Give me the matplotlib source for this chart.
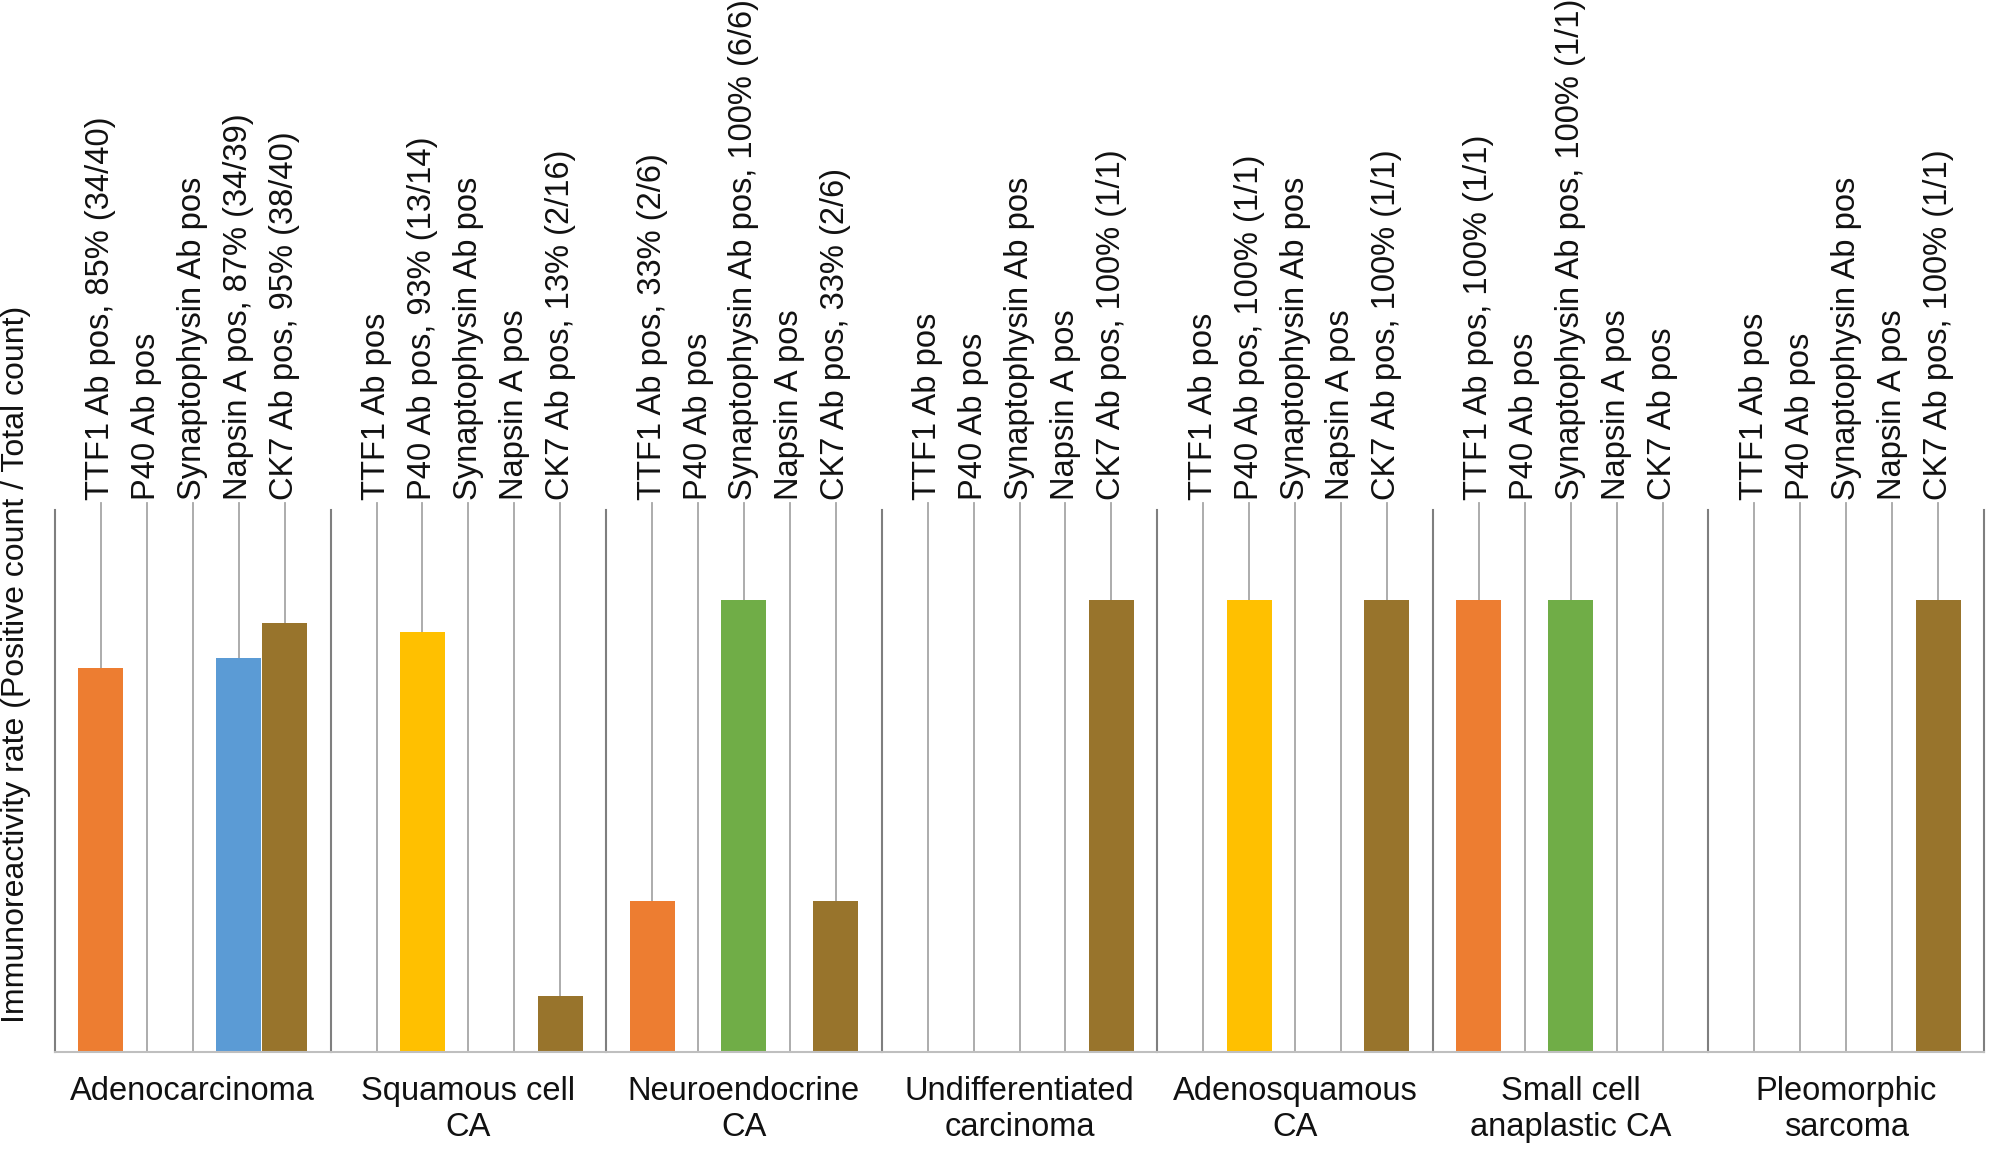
import matplotlib
matplotlib.use("Agg")
import matplotlib.pyplot as plt

plt.rcParams['font.family'] = ['Liberation Sans', 'DejaVu Sans']

# chart data
groups = ["Adenocarcinoma", "Squamous cell\nCA", "Neuroendocrine\nCA",
          "Undifferentiated\ncarcinoma", "Adenosquamous\nCA",
          "Small cell\nanaplastic CA", "Pleomorphic\nsarcoma"]
markers = ["TTF1 Ab pos", "P40 Ab pos", "Synaptophysin Ab pos", "Napsin A pos", "CK7 Ab pos"]
marker_colors = ["#ED7D31", "#FFC000", "#70AD47", "#5B9BD5", "#98742C"]

# positive count / total count per group, order follows markers (0 = not positive)
pos_counts = [
    [34, 0, 0, 34, 38],
    [0, 13, 0, 0, 2],
    [2, 0, 6, 0, 2],
    [0, 0, 0, 0, 1],
    [0, 1, 0, 0, 1],
    [1, 0, 1, 0, 0],
    [0, 0, 0, 0, 1],
]
total_counts = [
    [40, 0, 0, 39, 40],
    [0, 14, 0, 0, 16],
    [6, 0, 6, 0, 6],
    [0, 0, 0, 0, 1],
    [0, 1, 0, 0, 1],
    [1, 0, 1, 0, 0],
    [0, 0, 0, 0, 1],
]

fig = plt.figure(figsize=(19.93, 11.56), dpi=100)
ax = fig.add_axes([55 / 1993, 1 - 1052 / 1156, 1929 / 1993, (1052 - 509.6) / 1156])

slots = len(markers) + 1
ymax = 1.2
for g, name in enumerate(groups):
    base = g * slots
    for k, m in enumerate(markers):
        x = base + k + 1
        p, n = pos_counts[g][k], total_counts[g][k]
        rate = p / n if n else 0.0
        # leader line up to the label
        ax.plot([x, x], [rate, 1.215], color="#a6a6a6", lw=1.3, zorder=1, clip_on=False)
        if rate > 0:
            ax.bar(x, rate, width=0.98, color=marker_colors[k], zorder=2)
            label = "%s, %d%% (%d/%d)" % (m, int(100 * rate + 0.5), p, n)
        else:
            label = m
        ax.text(x, 1.222, label, rotation=90, ha="center", va="bottom",
                fontsize=23.5, color="#111111", clip_on=False)

# group separators
for g in range(len(groups) + 1):
    ax.plot([g * slots, g * slots], [0, ymax], color="#7f7f7f", lw=1.5, zorder=1, clip_on=False)

ax.set_xlim(0, len(groups) * slots)
ax.set_ylim(0, ymax)
for s in ["top", "right", "left"]:
    ax.spines[s].set_visible(False)
ax.spines["bottom"].set_color("#bfbfbf")
ax.spines["bottom"].set_linewidth(1.5)
ax.set_yticks([])
ax.set_xticks([g * slots + slots / 2 for g in range(len(groups))])
ax.set_xticklabels(groups, fontsize=23.5, color="#111111", linespacing=1.22)
ax.tick_params(axis="x", length=0, pad=17)

fig.text(16 / 1993, 1 - 1023 / 1156, "Immunoreactivity rate (Positive count / Total count)",
         rotation=90, ha="center", va="bottom", fontsize=23, color="#111111")

fig.savefig("out.png", dpi=100)
